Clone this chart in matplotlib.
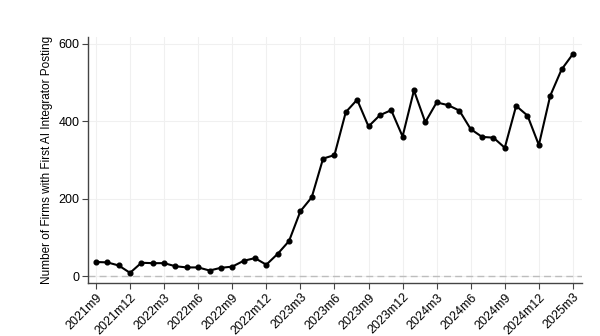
import numpy as np
import matplotlib.pyplot as plt

plt.rcParams["font.family"] = ["Liberation Sans", "DejaVu Sans"]

# monthly counts, 2021m9 .. 2025m3
months = []
for y, m0, m1 in [(2021, 9, 12), (2022, 1, 12), (2023, 1, 12), (2024, 1, 12), (2025, 1, 3)]:
    for m in range(m0, m1 + 1):
        months.append(f"{y}m{m}")

firms = [37, 36, 28, 9, 35, 34, 34, 26, 23, 23, 15, 22,
         25, 40, 47, 30, 58, 91, 168, 204, 304, 313, 424, 456,
         387, 416, 429, 361, 480, 398, 449, 442, 428, 380, 360, 358,
         332, 440, 415, 339, 466, 534, 574]

tick_step = 3
y_ticks = [0, 200, 400, 600]

fig = plt.figure(figsize=(6, 3.36), dpi=100)
ax = fig.add_axes([0.1467, 0.158, 0.8233, 0.732])

x = np.arange(len(months))
ax.plot(x, firms, color="black", lw=1.5, marker="o", ms=3.4, zorder=5)
ax.axhline(0, color="#bdbdbd", lw=1.0, ls=(0, (5, 3)), zorder=2)

ax.set_xticks(x[::tick_step])
ax.set_xticklabels(months[::tick_step], rotation=45, ha="right",
                   rotation_mode="anchor", fontsize=9)
ax.set_yticks(y_ticks)
ax.set_yticklabels([str(v) for v in y_ticks], fontsize=9)
ax.set_xlim(-0.7, len(months) - 1 + 0.8)
ax.set_ylim(-17, 618)
ax.set_ylabel("Number of Firms with First AI Integrator Posting", fontsize=8.5, labelpad=4)

ax.grid(True, color="#f0f0f0", lw=0.8)
ax.set_axisbelow(True)
for side in ["top", "right"]:
    ax.spines[side].set_visible(False)
for side in ["left", "bottom"]:
    ax.spines[side].set_color("#444444")
    ax.spines[side].set_linewidth(1.0)
ax.tick_params(axis="both", color="#444444", length=4, width=0.8, pad=2)

fig.savefig("out.png", dpi=100, facecolor="white")
